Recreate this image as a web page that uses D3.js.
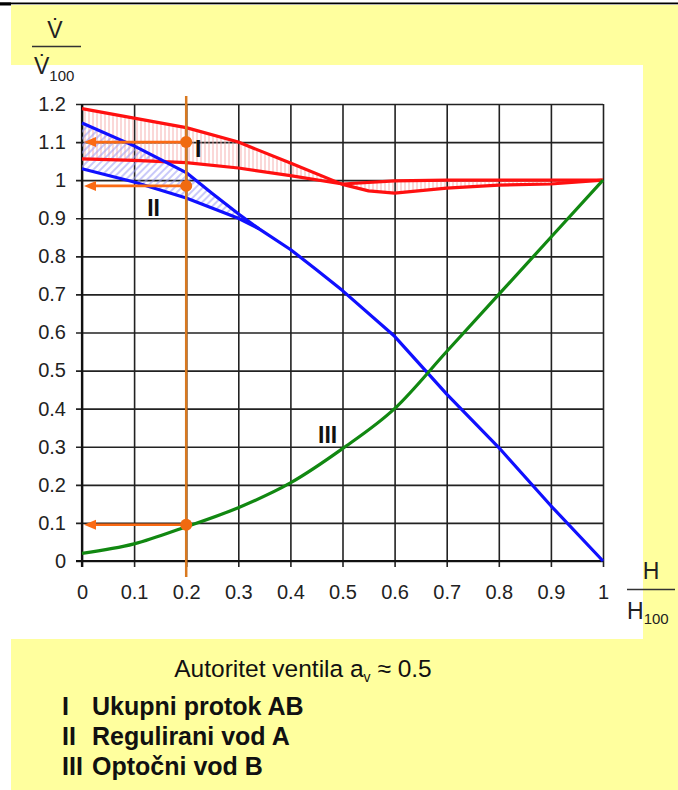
<!DOCTYPE html>
<html><head><meta charset="utf-8">
<script src="https://cdn.jsdelivr.net/npm/d3@7/dist/d3.min.js"></script>
<style>
body{margin:0;background:#fff}
text{font-family:"Liberation Sans",Arial,sans-serif}
</style>
</head><body>
<svg id="chart" width="678" height="790"></svg>
<script>
// ---------- data ----------
const xTickValues = [0,0.1,0.2,0.3,0.4,0.5,0.6,0.7,0.8,0.9,1];
const xTickLabels = ["0","0.1","0.2","0.3","0.4","0.5","0.6","0.7","0.8","0.9","1"];
const yTickValues = [0,0.1,0.2,0.3,0.4,0.5,0.6,0.7,0.8,0.9,1,1.1,1.2];
const yTickLabels = ["0","0.1","0.2","0.3","0.4","0.5","0.6","0.7","0.8","0.9","1","1.1","1.2"];

// I  Ukupni protok AB (band between two red curves)
const redUpperX = [0,0.1,0.2,0.3,0.4,0.5,0.55,0.6,0.7,0.8,0.9,1];
const redUpperY = [1.188,1.163,1.138,1.100,1.045,0.989,0.972,0.966,0.979,0.987,0.990,1.0];
const redLowerX = [0,0.1,0.2,0.3,0.4,0.5,0.6,0.7,0.8,0.9,1];
const redLowerY = [1.056,1.052,1.046,1.032,1.012,0.990,0.998,1.0,1.0,1.0,1.0];

// II Regulirani vod A (band between two blue curves)
const blueUpperX = [0,0.1,0.2,0.25,0.3,0.34,0.4,0.45,0.5,0.6,0.7,0.8,0.9,1];
const blueUpperY = [1.15,1.09,1.02,0.965,0.912,0.872,0.818,0.765,0.71,0.59,0.438,0.298,0.145,0];
const blueLowerX = [0,0.1,0.2,0.3,0.34];
const blueLowerY = [1.03,0.995,0.953,0.9,0.872];

// III Optočni vod B
const greenX = [0,0.1,0.2,0.3,0.4,0.5,0.6,0.7,0.8,0.9,1];
const greenY = [0.02,0.045,0.09,0.14,0.205,0.295,0.4,0.55,0.7,0.85,1.0];

// read-off at H/H100 = 0.2
const readX = 0.2;
const readY = [1.1, 0.985, 0.095];

const curveLabels = ["I","II","III"];
const curveLabelPos = [[0.217,1.06],[0.125,0.905],[0.453,0.31]];
const legendLines = [["I","Ukupni protok AB"],["II","Regulirani vod A"],["III","Optočni vod B"]];

// ---------- drawing ----------
const svg = d3.select("#chart");
const W = 678, H = 790;

// background
svg.append("rect").attr("x",0).attr("y",0).attr("width",W).attr("height",H).attr("fill","#fff");
svg.append("rect").attr("x",11).attr("y",5).attr("width",W-11).attr("height",H-5).attr("fill","#FFFF9E");
svg.append("rect").attr("x",11).attr("y",65).attr("width",632).attr("height",574).attr("fill","#fff");
svg.append("rect").attr("x",0).attr("y",2.5).attr("width",W).attr("height",1.8).attr("fill","#000");
svg.append("rect").attr("x",0).attr("y",2.5).attr("width",11).attr("height",3).attr("fill","#000");

const x = d3.scaleLinear().domain([0,1]).range([82,603]);
const y = d3.scaleLinear().domain([0,1.2]).range([561,104]);

const defs = svg.append("defs");
const pr = defs.append("pattern").attr("id","hatchRed").attr("patternUnits","userSpaceOnUse")
  .attr("width",4).attr("height",4);
pr.append("line").attr("x1",1).attr("y1",0).attr("x2",1).attr("y2",4)
  .attr("stroke","#f5a8a8").attr("stroke-width",0.9);
const pb = defs.append("pattern").attr("id","hatchBlue").attr("patternUnits","userSpaceOnUse")
  .attr("width",5).attr("height",5).attr("patternTransform","rotate(45)");
pb.append("line").attr("x1",1).attr("y1",0).attr("x2",1).attr("y2",5)
  .attr("stroke","#9c9cf5").attr("stroke-width",1.1);

// grid + axes
const plotW = x(1)-x(0), plotH = y(0)-y(1.2);
const gy = svg.append("g").attr("transform",`translate(${x(1)},0)`)
  .call(d3.axisLeft(y).tickValues(yTickValues).tickFormat((d,i)=>yTickLabels[i])
    .tickSize(plotW+6).tickPadding(10));
const gx = svg.append("g").attr("transform",`translate(0,${y(1.2)})`)
  .call(d3.axisBottom(x).tickValues(xTickValues).tickFormat((d,i)=>xTickLabels[i])
    .tickSize(plotH+6).tickPadding(18));
[gx,gy].forEach(g=>{
  g.select(".domain").remove();
  g.selectAll(".tick line").attr("stroke","#222").attr("stroke-width",1.6);
  g.selectAll(".tick text").attr("fill","#222").style("font-size","20px")
   .style("font-family",'"Liberation Sans",Arial,sans-serif');
});
// axis base lines slightly heavier
svg.append("line").attr("x1",x(0)-6).attr("x2",x(1)).attr("y1",y(0)).attr("y2",y(0))
  .attr("stroke","#111").attr("stroke-width",2.2);
svg.append("line").attr("x1",x(0)).attr("x2",x(0)).attr("y1",y(1.2)).attr("y2",y(0)+6)
  .attr("stroke","#111").attr("stroke-width",2.2);

const pts = (xs,ys)=>xs.map((v,i)=>[v,ys[i]]);
const line = d3.line().x(d=>x(d[0])).y(d=>y(d[1]));
const smooth = d3.line().x(d=>x(d[0])).y(d=>y(d[1])).curve(d3.curveMonotoneX);

const redU = pts(redUpperX,redUpperY), redL = pts(redLowerX,redLowerY);
const blueU = pts(blueUpperX,blueUpperY), blueL = pts(blueLowerX,blueLowerY);

// hatched bands
svg.append("path").attr("d", line(redU.concat(redL.slice().reverse())) + "Z")
  .attr("fill","url(#hatchRed)");
const blueBandU = blueU.filter(d=>d[0]<=blueLowerX[blueLowerX.length-1]);
svg.append("path").attr("d", line(blueBandU.concat(blueL.slice().reverse())) + "Z")
  .attr("fill","url(#hatchBlue)");

// curves
const sw = 3.2;
svg.append("path").attr("d",line(redU)).attr("fill","none").attr("stroke","#ff1010").attr("stroke-width",sw).attr("stroke-linejoin","round");
svg.append("path").attr("d",line(redL)).attr("fill","none").attr("stroke","#ff1010").attr("stroke-width",sw).attr("stroke-linejoin","round");
svg.append("path").attr("d",line(blueU)).attr("fill","none").attr("stroke","#1010ff").attr("stroke-width",sw).attr("stroke-linejoin","round");
svg.append("path").attr("d",line(blueL)).attr("fill","none").attr("stroke","#1010ff").attr("stroke-width",sw).attr("stroke-linejoin","round");
svg.append("path").attr("d",smooth(pts(greenX,greenY))).attr("fill","none").attr("stroke","#118811").attr("stroke-width",sw);

// orange reading lines
svg.append("line").attr("x1",x(readX)).attr("x2",x(readX)).attr("y1",y(1.2)-8).attr("y2",y(0)+16)
  .attr("stroke","#d9791f").attr("stroke-width",2.5);
readY.forEach(v=>{
  const yy = y(v);
  svg.append("line").attr("x1",x(readX)).attr("x2",x(0)+12).attr("y1",yy).attr("y2",yy)
    .attr("stroke","#fb6a14").attr("stroke-width",2.6);
  svg.append("path").attr("d",`M${x(0)+2},${yy} L${x(0)+14},${yy-5} L${x(0)+14},${yy+5} Z`)
    .attr("fill","#fb6a14");
  svg.append("circle").attr("cx",x(readX)).attr("cy",yy).attr("r",6).attr("fill","#f06a10");
});

// curve labels
curveLabels.forEach((t,i)=>{
  svg.append("text").attr("x",x(curveLabelPos[i][0])).attr("y",y(curveLabelPos[i][1]))
    .text(t).style("font-weight","bold").style("font-size","23px").attr("fill","#111");
});

// axis titles
const yt = svg.append("g");
yt.append("text").attr("x",55).attr("y",38).attr("text-anchor","middle").style("font-size","23px").attr("fill","#222").text("V̇");
yt.append("line").attr("x1",32).attr("x2",81).attr("y1",46.5).attr("y2",46.5).attr("stroke","#333").attr("stroke-width",1.3);
const yb = yt.append("text").attr("x",34).attr("y",74).style("font-size","23px").attr("fill","#222");
yb.append("tspan").text("V̇");
yb.append("tspan").attr("dy",7).style("font-size","15px").text("100");

const xt = svg.append("g");
xt.append("text").attr("x",651).attr("y",579).attr("text-anchor","middle").style("font-size","23px").attr("fill","#222").text("H");
xt.append("line").attr("x1",627).attr("x2",675).attr("y1",589.5).attr("y2",589.5).attr("stroke","#333").attr("stroke-width",1.3);
const xb = xt.append("text").attr("x",627).attr("y",619).style("font-size","23px").attr("fill","#222");
xb.append("tspan").text("H");
xb.append("tspan").attr("dy",5).style("font-size","15px").text("100");

// footer
const ft = svg.append("text").attr("x",303).attr("y",677).attr("text-anchor","middle").style("font-size","24.5px").attr("fill","#111");
ft.append("tspan").text("Autoritet ventila a");
ft.append("tspan").attr("dy",5).style("font-size","14px").text("v");
ft.append("tspan").attr("dy",-5).text(" ≈ 0.5");

legendLines.forEach((l,i)=>{
  const t = svg.append("text").attr("x",62).attr("y",715+i*30).style("font-size","25px").style("font-weight","bold").attr("fill","#111");
  t.append("tspan").text(l[0]);
  t.append("tspan").attr("x", i===2 ? 92 : 92).text(l[1]);
});
</script>
</body></html>
